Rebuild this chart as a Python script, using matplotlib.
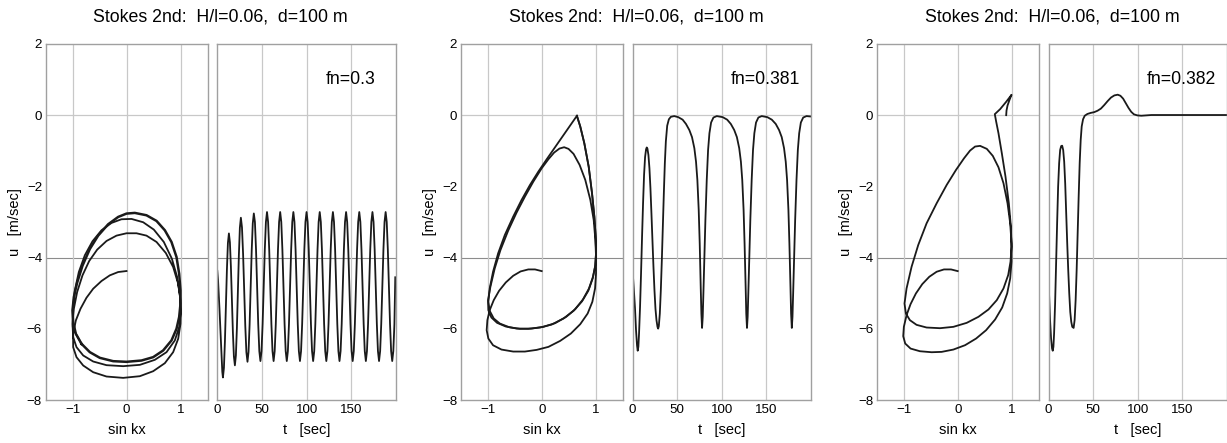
import matplotlib
matplotlib.use('Agg')
import matplotlib.pyplot as plt

plt.rcParams['font.family'] = ['Liberation Sans', 'DejaVu Sans']

title = 'Stokes 2nd:  H/l=0.06,  d=100 m'
fn_labels = ['fn=0.3', 'fn=0.381', 'fn=0.382']

# ---------------- panel 1 (fn=0.3) ----------------
# phase path (sin kx, u): start and the first loops
p1_sin = [0.000, -0.154, -0.309, -0.463, -0.617, -0.741, -0.852, -0.938, -0.988, -0.988, -0.926, -0.802,
          -0.617, -0.370, -0.062, 0.247, 0.494, 0.710, 0.864, 0.957, 1.000, 1.006, 1.000, 0.957, 0.864,
          0.728, 0.556, 0.370, 0.185, 0.000, -0.185, -0.370, -0.543, -0.691, -0.815, -0.914, -0.975,
          -1.000, -0.988, -0.926, -0.802, -0.617, -0.370, -0.062, 0.247, 0.525, 0.741, 0.895, 0.975,
          1.000, 0.994, 0.938, 0.840, 0.691, 0.506, 0.309, 0.093, -0.093, -0.278, -0.463, -0.630,
          -0.772, -0.883, -0.957, -0.994, -0.994, -0.938, -0.833]
p1_u = [-4.375, -4.403, -4.496, -4.655, -4.871, -5.124, -5.433, -5.760, -6.135, -6.509, -6.790, -7.024,
        -7.212, -7.333, -7.371, -7.324, -7.184, -6.959, -6.650, -6.275, -5.854, -5.479, -5.199, -4.730, -4.262,
        -3.869, -3.560, -3.382, -3.316, -3.316, -3.382, -3.532, -3.775, -4.094, -4.496, -4.964, -5.433,
        -5.854, -6.228, -6.509, -6.743, -6.912, -7.015, -7.043, -7.006, -6.865, -6.650, -6.322, -5.948,
        -5.573, -5.105, -4.543, -4.028, -3.560, -3.213, -3.007, -2.914, -2.923, -3.026, -3.232, -3.541,
        -3.934, -4.403, -4.918, -5.433, -5.948, -6.135, -6.416]
# settled loop, traced many times
p1_cycle_sin = [-0.833, -0.679, -0.494, -0.247, 0.000, 0.278, 0.494, 0.679, 0.833, 0.926, 0.975, 1.000,
                1.000, 0.975, 0.926, 0.833, 0.710, 0.556, 0.370, 0.154, 0.000, -0.154, -0.340, -0.525,
                -0.679, -0.815, -0.914, -0.975, -1.000, -0.988, -0.938, -0.833]
p1_cycle_u = [-6.416, -6.650, -6.809, -6.903, -6.921, -6.884, -6.790, -6.603, -6.322, -5.994, -5.667, -5.292,
              -4.918, -4.449, -3.981, -3.560, -3.232, -2.970, -2.811, -2.745, -2.764, -2.858, -3.064, -3.382,
              -3.757, -4.225, -4.702, -5.105, -5.479, -5.807, -6.135, -6.416]

# time history u(t)
p1_t = [0, 0.8, 1.6, 2.4, 3.2, 4.0, 4.8, 5.6, 6.3,
        7.42, 8.53, 9.65, 10.77, 11.88, 13.0,
        14.12, 15.23, 16.35, 17.47, 18.58, 19.7,
        20.82, 21.93, 23.05, 24.17, 25.28, 26.4,
        27.63, 28.87, 30.1, 31.33, 32.57, 33.8,
        34.98, 36.17, 37.35, 38.53, 39.72, 40.9,
        42.13, 43.36, 44.59, 45.82, 47.05, 48.28, 49.51, 50.74, 51.97, 53.20, 54.43, 55.66,
        56.89, 58.12, 59.35, 60.58, 61.81, 63.04, 64.27, 65.50, 66.73, 67.96, 69.19, 70.42,
        71.65, 72.88, 74.11, 75.34, 76.57, 77.80, 79.03, 80.26, 81.49, 82.72, 83.95, 85.18,
        86.41, 87.64, 88.87, 90.10, 91.33, 92.56, 93.79, 95.02, 96.25, 97.48, 98.71, 99.94,
        101.17, 102.40, 103.63, 104.86, 106.09, 107.32, 108.55, 109.78, 111.01, 112.24, 113.47, 114.70,
        115.93, 117.16, 118.39, 119.62, 120.85, 122.08, 123.31, 124.54, 125.77, 127.00, 128.23, 129.46,
        130.69, 131.92, 133.15, 134.38, 135.61, 136.84, 138.07, 139.30, 140.53, 141.76, 142.99, 144.22,
        145.45, 146.68, 147.91, 149.14, 150.37, 151.60, 152.83, 154.06, 155.29, 156.52, 157.75, 158.98,
        160.21, 161.44, 162.67, 163.90, 165.13, 166.36, 167.59, 168.82, 170.05, 171.28, 172.51, 173.74,
        174.97, 176.20, 177.43, 178.66, 179.89, 181.12, 182.35, 183.58, 184.81, 186.04, 187.27, 188.50,
        189.73, 190.96, 192.19, 193.42, 194.65, 195.88, 197.11, 198.34, 199.30]
p1_tu = [-4.37, -4.62, -5.00, -5.42, -5.88, -6.35, -6.80, -7.20, -7.36,
         -7.09, -6.35, -5.34, -4.33, -3.59, -3.32,
         -3.57, -4.25, -5.17, -6.10, -6.77, -7.02,
         -6.74, -5.99, -4.95, -3.92, -3.16, -2.88,
         -3.15, -3.89, -4.90, -5.91, -6.65, -6.92,
         -6.64, -5.88, -4.84, -3.80, -3.04, -2.76,
         -3.00, -3.77, -4.81, -5.86, -6.62, -6.90, -6.62, -5.86, -4.81, -3.77, -3.00, -2.72,
         -3.00, -3.77, -4.81, -5.86, -6.62, -6.90, -6.62, -5.86, -4.81, -3.77, -3.00, -2.72,
         -3.00, -3.77, -4.81, -5.86, -6.62, -6.90, -6.62, -5.86, -4.81, -3.77, -3.00, -2.72,
         -3.00, -3.77, -4.81, -5.86, -6.62, -6.90, -6.62, -5.86, -4.81, -3.77, -3.00, -2.72,
         -3.00, -3.77, -4.81, -5.86, -6.62, -6.90, -6.62, -5.86, -4.81, -3.77, -3.00, -2.72,
         -3.00, -3.77, -4.81, -5.86, -6.62, -6.90, -6.62, -5.86, -4.81, -3.77, -3.00, -2.72,
         -3.00, -3.77, -4.81, -5.86, -6.62, -6.90, -6.62, -5.86, -4.81, -3.77, -3.00, -2.72,
         -3.00, -3.77, -4.81, -5.86, -6.62, -6.90, -6.62, -5.86, -4.81, -3.77, -3.00, -2.72,
         -3.00, -3.77, -4.81, -5.86, -6.62, -6.90, -6.62, -5.86, -4.81, -3.77, -3.00, -2.72,
         -3.00, -3.77, -4.81, -5.86, -6.62, -6.90, -6.62, -5.86, -4.81, -3.77, -3.00, -2.72,
         -3.00, -3.77, -4.81, -5.86, -6.62, -6.90, -6.62, -5.86, -4.55]

# ---------------- panel 2 (fn=0.381) ----------------
p2_sin = [0.000, -0.124, -0.248, -0.391, -0.528, -0.665, -0.789, -0.888, -0.963, -1.006, -1.019, -0.988,
          -0.901, -0.745, -0.528, -0.311, -0.093, 0.124, 0.342, 0.540, 0.714, 0.851, 0.938, 0.988, 1.006,
          1.006, 0.994, 0.963, 0.901, 0.807, 0.702, 0.590, 0.497, 0.416, 0.329, 0.230, 0.124, 0.000,
          -0.155, -0.311, -0.466, -0.621, -0.764, -0.870, -0.950, -0.994, -0.988, -0.932, -0.826, -0.665,
          -0.466, -0.248, -0.031, 0.186, 0.404, 0.590, 0.745, 0.863, 0.944, 0.988, 1.006, 1.000, 0.975,
          0.932, 0.870, 0.789, 0.714, 0.652]
p2_u = [-4.377, -4.330, -4.330, -4.386, -4.508, -4.695, -4.929, -5.191, -5.472, -5.753, -6.034, -6.268,
        -6.456, -6.577, -6.633, -6.633, -6.586, -6.502, -6.334, -6.128, -5.865, -5.566, -5.238, -4.863, -4.442,
        -3.974, -3.506, -2.944, -2.382, -1.820, -1.399, -1.090, -0.950, -0.903, -0.940, -1.053, -1.240, -1.493,
        -1.867, -2.288, -2.738, -3.243, -3.787, -4.302, -4.817, -5.191, -5.472, -5.678, -5.828, -5.931,
        -5.987, -5.996, -5.959, -5.875, -5.706, -5.491, -5.228, -4.929, -4.583, -4.255, -3.880, -3.412, -2.850,
        -2.195, -1.446, -0.790, -0.322, -0.022]
p2_cycle_sin = [0.652, 0.342, 0.093, -0.062, -0.217, -0.373, -0.528, -0.683, -0.807, -0.901, -0.963, -0.988,
                -0.963, -0.888, -0.776, -0.602, -0.404, -0.186, 0.031, 0.248, 0.453, 0.621, 0.764, 0.876,
                0.950, 0.994, 1.006, 1.000, 0.975, 0.932, 0.870, 0.789, 0.714, 0.652]
p2_cycle_u = [-0.022, -0.697, -1.240, -1.587, -1.961, -2.382, -2.850, -3.365, -3.880, -4.395, -4.863, -5.238,
              -5.491, -5.706, -5.847, -5.950, -5.996, -5.987, -5.940, -5.837, -5.660, -5.444, -5.172, -4.863,
              -4.536, -4.208, -3.880, -3.412, -2.850, -2.195, -1.446, -0.790, -0.322, -0.022]

p2_t = [0, 1.31, 2.82, 3.94, 5.07, 5.82, 6.57, 7.32, 8.45, 9.57, 10.70, 11.82, 12.95, 14.08, 15.20, 15.95,
        16.70, 17.83, 18.96, 20.08, 21.21, 22.33, 23.46, 24.59, 25.71, 26.84, 27.97, 28.72,
        29.47, 30.59, 31.72, 32.85, 33.97, 35.10, 36.22, 37.35, 38.85, 40.73, 42.98, 46.73, 51.24, 56.12,
        59.87, 63.63, 66.63, 69.26, 71.13, 72.64, 74.14, 75.27, 76.39, 77.14, 77.89,
        78.64, 79.39, 80.52, 81.64, 83.14, 84.64, 86.15, 88.02, 90.65, 94.41, 101.0, 106.0,
        110.1, 113.9, 116.9, 119.5, 121.4, 122.9, 124.4, 125.5, 126.7, 127.4, 128.2,
        128.95, 129.7, 130.83, 131.95, 133.45, 134.95, 136.46, 138.33, 140.96, 144.7, 151.0, 156.0,
        160.4, 164.1, 167.1, 169.7, 171.6, 173.1, 174.6, 175.7, 176.9, 177.6, 178.4,
        179.15, 179.9, 181.03, 182.15, 183.65, 185.15, 186.66, 188.53, 191.16, 194.9, 199.0]
p2_tu = [-4.33, -4.82, -5.43, -6.03, -6.46, -6.61, -6.50, -6.13, -5.38, -4.44, -3.41, -2.48, -1.68, -1.18, -0.96, -0.91,
         -0.94, -1.12, -1.49, -2.05, -2.76, -3.51, -4.25, -4.91, -5.43, -5.75, -5.94, -5.99,
         -5.92, -5.57, -4.91, -4.07, -3.13, -2.19, -1.35, -0.74, -0.30, -0.12, -0.05, -0.03, -0.06, -0.13,
         -0.25, -0.42, -0.62, -0.93, -1.31, -1.82, -2.66, -3.60, -4.82, -5.57, -5.97,
         -5.66, -5.00, -3.97, -2.94, -1.82, -0.98, -0.51, -0.21, -0.07, -0.03, -0.06, -0.13,
         -0.25, -0.42, -0.62, -0.93, -1.31, -1.82, -2.66, -3.60, -4.82, -5.57, -5.97,
         -5.66, -5.00, -3.97, -2.94, -1.82, -0.98, -0.51, -0.21, -0.07, -0.03, -0.06, -0.13,
         -0.25, -0.42, -0.62, -0.93, -1.31, -1.82, -2.66, -3.60, -4.82, -5.57, -5.97,
         -5.66, -5.00, -3.97, -2.94, -1.82, -0.98, -0.51, -0.21, -0.07, -0.03, -0.04]

# ---------------- panel 3 (fn=0.382) ----------------
p3_sin = [0.000, -0.124, -0.254, -0.390, -0.526, -0.656, -0.774, -0.873, -0.947, -0.997, -1.009, -0.972,
          -0.873, -0.700, -0.483, -0.297, -0.080, 0.136, 0.341, 0.526, 0.693, 0.824, 0.916, 0.972, 0.997,
          0.997, 0.972, 0.923, 0.848, 0.755, 0.650, 0.539, 0.415, 0.322, 0.229, 0.118, -0.031, -0.204,
          -0.390, -0.576, -0.731, -0.854, -0.947, -0.985, -0.960, -0.885, -0.762, -0.576, -0.328, -0.080,
          0.167, 0.384, 0.570, 0.724, 0.848, 0.935, 0.978, 0.997, 0.985, 0.947, 0.885, 0.817, 0.755,
          0.712, 0.687, 0.786, 0.898, 0.997, 0.960, 0.923, 0.904, 0.898]
p3_u = [-4.377, -4.330, -4.330, -4.395, -4.536, -4.742, -5.004, -5.303, -5.612, -5.940, -6.202, -6.408,
        -6.549, -6.624, -6.652, -6.642, -6.577, -6.455, -6.268, -6.034, -5.734, -5.397, -5.004, -4.583, -4.114,
        -3.599, -3.037, -2.476, -1.914, -1.465, -1.146, -0.949, -0.865, -0.884, -0.997, -1.212, -1.539, -1.961,
        -2.476, -3.037, -3.646, -4.255, -4.863, -5.285, -5.566, -5.753, -5.884, -5.959, -5.978, -5.940,
        -5.828, -5.659, -5.453, -5.191, -4.863, -4.489, -4.114, -3.693, -3.131, -2.476, -1.727, -1.071, -0.510,
        -0.182, 0.024, 0.165, 0.371, 0.567, 0.427, 0.268, 0.127, -0.004]

p3_t = [0, 0.6, 1.73, 2.87, 4.0, 4.75, 5.5, 6.26, 7.39, 8.52, 9.65, 10.78, 11.92, 13.05, 14.18, 15.3,
        16.44, 17.57, 18.7, 19.83, 20.97, 22.1, 23.23, 24.36, 25.49, 26.62, 28.13,
        29.26, 30.39, 31.52, 32.65, 33.78, 34.92, 36.05, 37.18, 38.69, 40.57, 43.59, 47.36, 51.13, 54.9,
        58.67, 62.44, 66.21, 69.98, 73.75, 77.52, 80.54, 83.56, 86.58, 89.59, 92.61, 95.63, 99.4, 103.9,
        109.6, 115.2, 200]
p3_tu = [-4.33, -5.00, -5.75, -6.27, -6.55, -6.61, -6.50, -6.13, -5.29, -4.16, -3.04, -2.01, -1.35, -0.98, -0.87, -0.86,
         -0.98, -1.31, -1.92, -2.76, -3.60, -4.35, -5.00, -5.52, -5.80, -5.94, -5.97,
         -5.75, -5.19, -4.35, -3.32, -2.29, -1.35, -0.70, -0.32, -0.12, -0.02, 0.03, 0.06, 0.08, 0.12,
         0.18, 0.28, 0.39, 0.49, 0.55, 0.57, 0.54, 0.46, 0.33, 0.20, 0.09, 0.02, -0.01, -0.02,
         -0.01, 0.00, 0.00]

phase = [[(p1_sin, p1_u, 1.3), (p1_cycle_sin, p1_cycle_u, 1.8)],
         [(p2_sin, p2_u, 1.3), (p2_cycle_sin, p2_cycle_u, 1.3)],
         [(p3_sin, p3_u, 1.3)]]
series = [(p1_t, p1_tu), (p2_t, p2_tu), (p3_t, p3_tu)]

W, H = 1227, 443
y_top, y_bot = 43.7, 400.3
left_px = [45.5, 460.7, 876.7]
pair_gap = 9.8
left_w, right_w = 162.0, 178.6

fig = plt.figure(figsize=(W / 100, H / 100), dpi=100)

grid_light = '#c8c8c8'
grid_dark = '#8c8c8c'
spine_col = '#a0a0a0'
line_col = '#1a1a1a'


def style(ax):
    for s in ax.spines.values():
        s.set_color(spine_col)
        s.set_linewidth(1.0)
    ax.tick_params(length=0, labelsize=9.6, pad=2.5)
    ax.set_ylim(-8, 2)
    ax.set_yticks([-8, -6, -4, -2, 0, 2])
    ax.axhline(0, color=grid_light, lw=0.9, zorder=0)
    ax.axhline(-4, color=grid_dark, lw=0.8, zorder=0)


for i in range(3):
    x0 = left_px[i]
    axl = fig.add_axes([x0 / W, 1 - y_bot / H, left_w / W, (y_bot - y_top) / H])
    x1 = x0 + left_w + pair_gap
    axr = fig.add_axes([x1 / W, 1 - y_bot / H, right_w / W, (y_bot - y_top) / H])

    # phase plot
    style(axl)
    axl.set_xlim(-1.5, 1.5)
    axl.set_xticks([-1, 0, 1])
    for xv in [-1, 0, 1]:
        axl.axvline(xv, color=grid_light, lw=0.9, zorder=0)
    for s, u, lw in phase[i]:
        axl.plot(s, u, color=line_col, lw=lw, solid_joinstyle='round')
    axl.text(-0.19, 0.5, 'u   [m/sec]', rotation=90, ha='center', va='center',
             fontsize=10.5, transform=axl.transAxes)
    axl.text(0.5, -0.083, 'sin kx', ha='center', va='center', fontsize=10.5, transform=axl.transAxes)

    # time history
    style(axr)
    axr.set_xlim(0, 200)
    axr.set_xticks([0, 50, 100, 150])
    axr.set_yticklabels([])
    for xv in [50, 100, 150]:
        axr.axvline(xv, color=grid_light, lw=0.9, zorder=0)
    t, u = series[i]
    axr.plot(t, u, color=line_col, lw=1.3, solid_joinstyle='round')
    axr.text(0.745, 0.9, fn_labels[i], ha='center', va='center', fontsize=12.7, transform=axr.transAxes)
    axr.text(0.5, -0.083, 't   [sec]', ha='center', va='center', fontsize=10.5, transform=axr.transAxes)

    cx = (x0 + x1 + right_w) / 2
    fig.text(cx / W, 1 - 16.7 / H, title, ha='center', va='center', fontsize=12.8)

fig.savefig('out.png', dpi=100)
